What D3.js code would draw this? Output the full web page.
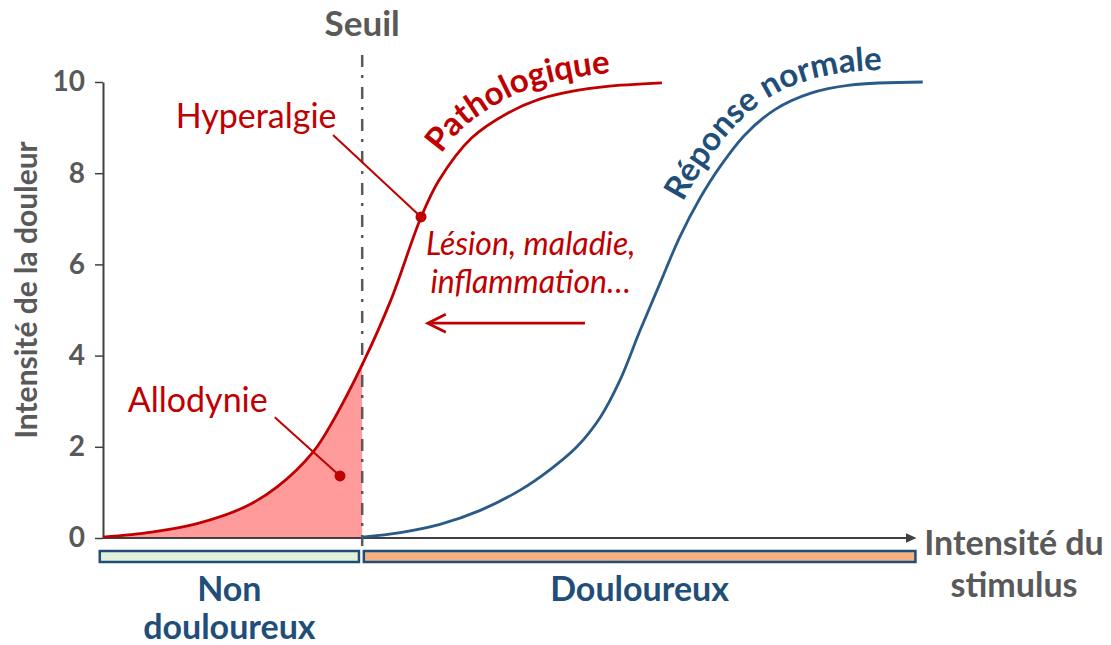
<!DOCTYPE html>
<html><head><meta charset="utf-8">
<script src="https://cdn.jsdelivr.net/npm/d3@7"></script>
<style>
html,body{margin:0;padding:0;background:#fff;}
svg{display:block;font-family:Lato,"Open Sans",sans-serif;}
</style></head><body>
<svg id="chart" width="1111" height="645"></svg>
<script>
// ---------- data ----------
const stimulusPatho = [0, 6, 11.5, 17.5, 21.5, 26, 28.5, 32, 35.5, 39.3, 41.5, 45.5, 50, 54, 58, 62, 69];
const painPatho     = [0.02, 0.13, 0.31, 0.68, 1.12, 1.9, 2.6, 3.8, 5.2, 7.05, 7.85, 8.77, 9.32, 9.63, 9.8, 9.9, 9.98];
const stimulusNormal = [32, 36.7, 41.6, 46.5, 51.5, 55.2, 58.5, 61.4, 63.8, 66.3, 68.8, 71.2, 73.7, 76.2, 79.3, 83, 87.3, 92.2, 101.2];
const painNormal     = [0.02, 0.12, 0.3, 0.6, 1.05, 1.5, 2.0, 2.65, 3.45, 4.55, 5.6, 6.6, 7.45, 8.15, 8.85, 9.4, 9.75, 9.93, 10];
const yTicks = [0, 2, 4, 6, 8, 10];
const threshold = 32;
const seriesNames = ["Pathologique", "Réponse normale"];
const zoneLines = [["Non", "douloureux"], ["Douloureux"]];
const zoneFrom = [-0.4, 32.2];
const zoneTo = [31.6, 100.3];
const annotations = ["Hyperalgie", "Allodynie"];
const causeLines = ["Lésion, maladie,", "inflammation…"];

// ---------- setup ----------
const svg = d3.select("#chart");
const x = d3.scaleLinear().domain([0, 100]).range([103, 913]);
const y = d3.scaleLinear().domain([0, 10]).range([538, 82]);
const RED = "#c00000", BLUE = "#1f4e79", GRAY = "#595959", AX = "#404040";
const curve = d3.curveCatmullRom.alpha(0.5);

const patho = stimulusPatho.map((s, i) => [s, painPatho[i]]);
const normal = stimulusNormal.map((s, i) => [s, painNormal[i]]);

const defs = svg.append("defs");
defs.append("marker").attr("id", "axArrow").attr("markerUnits", "userSpaceOnUse")
  .attr("markerWidth", 12).attr("markerHeight", 10).attr("refX", 1).attr("refY", 5)
  .attr("orient", "auto")
  .append("path").attr("d", "M0,0 L11,5 L0,10 Z").attr("fill", AX);
defs.append("clipPath").attr("id", "belowSeuil").append("rect")
  .attr("x", x(0)).attr("y", 0).attr("width", x(threshold) - x(0)).attr("height", y(0));

// area under pathological curve below threshold
const area = d3.area().x(d => x(d[0])).y0(y(0)).y1(d => y(d[1])).curve(curve);
svg.append("path").datum(patho).attr("clip-path", "url(#belowSeuil)")
  .attr("d", area).attr("fill", "#ff9b9b");

// y axis
const yAxis = svg.append("g").attr("transform", `translate(${x(0)},0)`)
  .call(d3.axisLeft(y).tickValues(yTicks).tickSize(8).tickSizeOuter(0).tickPadding(10));
yAxis.select(".domain").attr("stroke", AX).attr("stroke-width", 2);
yAxis.selectAll(".tick line").attr("stroke", AX).attr("stroke-width", 1.5);
yAxis.selectAll(".tick text").attr("fill", GRAY).attr("font-size", 28).attr("font-weight", "bold")
  .attr("font-family", "Lato,sans-serif");

// x axis with arrow
svg.append("line").attr("x1", x(0)).attr("x2", x(99.2)).attr("y1", y(0)).attr("y2", y(0))
  .attr("stroke", AX).attr("stroke-width", 2).attr("marker-end", "url(#axArrow)");

// zones
zoneFrom.forEach((f, i) => {
  svg.append("rect").attr("x", x(f)).attr("y", 551).attr("width", x(zoneTo[i]) - x(f)).attr("height", 11)
    .attr("fill", i === 0 ? "#e2f0d9" : "#f4b183").attr("stroke", BLUE).attr("stroke-width", 2.5);
});
const zoneCenters = [(x(zoneFrom[0]) + x(zoneTo[0])) / 2, (x(zoneFrom[1]) + x(zoneTo[1])) / 2];
zoneLines.forEach((lines, i) => {
  const t = svg.append("text").attr("text-anchor", "middle").attr("fill", BLUE)
    .attr("font-weight", "bold").attr("font-size", 34);
  lines.forEach((l, j) => t.append("tspan").attr("x", zoneCenters[i]).attr("y", 601 + j * 38).text(l));
});

// x title
const xt = svg.append("text").attr("text-anchor", "middle").attr("fill", GRAY)
  .attr("font-weight", "bold").attr("font-size", 34);
["Intensité du", "stimulus"].forEach((l, j) => xt.append("tspan").attr("x", 1014).attr("y", 555 + j * 42).text(l));

// y title
svg.append("text").attr("transform", "translate(37,290) rotate(-90)").attr("text-anchor", "middle")
  .attr("fill", GRAY).attr("font-weight", "bold").attr("font-size", 30).text("Intensité de la douleur");

// Seuil
svg.append("line").attr("x1", x(threshold)).attr("x2", x(threshold)).attr("y1", 55).attr("y2", 546)
  .attr("stroke", GRAY).attr("stroke-width", 2.5).attr("stroke-dasharray", "12,8,3,9");
svg.append("text").attr("x", x(threshold)).attr("y", 36).attr("text-anchor", "middle").attr("fill", GRAY)
  .attr("font-weight", "bold").attr("font-size", 35).text("Seuil");

// curves
const line = d3.line().x(d => x(d[0])).y(d => y(d[1])).curve(curve);
const pathRed = svg.append("path").datum(patho).attr("d", line).attr("fill", "none")
  .attr("stroke", RED).attr("stroke-width", 2.8);
const pathBlue = svg.append("path").datum(normal).attr("d", line).attr("fill", "none")
  .attr("stroke", "#2a5a88").attr("stroke-width", 2.8);

// curved labels
function offsetPath(node, fromX, dist, id) {
  const L = node.getTotalLength();
  const pts = [];
  for (let s = 0; s <= L; s += 1) { const p = node.getPointAtLength(s); if (p.x >= fromX) pts.push(p); }
  const out = pts.map((p, i) => {
    const a = pts[Math.max(0, i - 4)], b = pts[Math.min(pts.length - 1, i + 4)];
    const dx = b.x - a.x, dy = b.y - a.y, len = Math.hypot(dx, dy) || 1;
    return [p.x + dist * dy / len, p.y - dist * dx / len];
  });
  defs.append("path").attr("id", id).attr("d", d3.line()(out));
}
offsetPath(pathRed.node(), x(43), 13, "pRed");
offsetPath(pathBlue.node(), x(73), 13, "pBlue");
svg.append("text").attr("fill", RED).attr("font-weight", "bold").attr("font-size", 33)
  .append("textPath").attr("href", "#pRed").text(seriesNames[0]);
svg.append("text").attr("fill", BLUE).attr("font-weight", "bold").attr("font-size", 33)
  .append("textPath").attr("href", "#pBlue").text(seriesNames[1]);

// annotations
const annText = [[18.9, 8.99], [11.7, 2.76]];
const annFrom = [[28.4, 8.84], [21.2, 2.65]];
const annDot = [[39.26, 7.04], [29.26, 1.36]];
annotations.forEach((a, i) => {
  svg.append("line").attr("x1", x(annFrom[i][0])).attr("y1", y(annFrom[i][1]))
    .attr("x2", x(annDot[i][0])).attr("y2", y(annDot[i][1])).attr("stroke", RED).attr("stroke-width", 2);
  svg.append("circle").attr("cx", x(annDot[i][0])).attr("cy", y(annDot[i][1])).attr("r", 5.5).attr("fill", RED);
  svg.append("text").attr("x", x(annText[i][0])).attr("y", y(annText[i][1])).attr("text-anchor", "middle")
    .attr("fill", RED).attr("font-size", 34).text(a);
});

// cause text + arrow
causeLines.forEach((l, j) => {
  svg.append("text").attr("x", x(52.8)).attr("y", y(6.21) + j * 38).attr("text-anchor", "middle")
    .attr("fill", RED).attr("font-style", "italic").attr("font-size", 32).text(l);
});
const ay = y(4.71), ax1 = x(59.5), ax0 = x(40.1);
svg.append("line").attr("x1", ax1).attr("x2", ax0 + 1).attr("y1", ay).attr("y2", ay)
  .attr("stroke", RED).attr("stroke-width", 2.8);
svg.append("path").attr("d", `M${ax0 + 18},${ay - 9} L${ax0},${ay} L${ax0 + 18},${ay + 9}`)
  .attr("fill", "none").attr("stroke", RED).attr("stroke-width", 2.8);
</script>
</body></html>
